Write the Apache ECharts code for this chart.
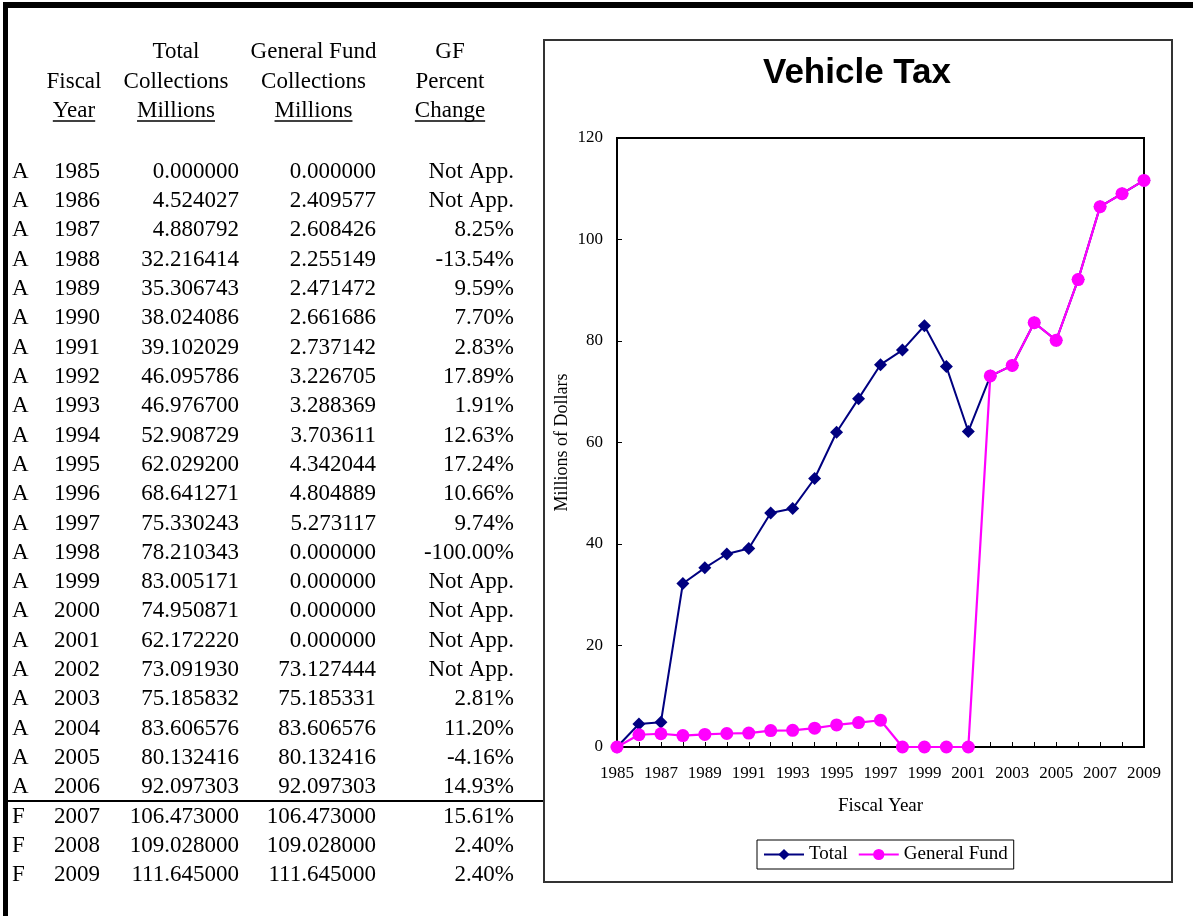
<!DOCTYPE html>
<html>
<head>
<meta charset="utf-8">
<title>Vehicle Tax</title>
<script src="https://cdn.jsdelivr.net/npm/echarts@6/dist/echarts.min.js"></script>
<style>
  html, body { margin: 0; padding: 0; background: #fff; }
  #main { width: 1193px; height: 916px; }
</style>
</head>
<body>
<div id="main"></div>
<script>
// Fiscal years, A = actual, F = forecast
const years = ['1985','1986','1987','1988','1989','1990','1991','1992','1993','1994','1995','1996',
  '1997','1998','1999','2000','2001','2002','2003','2004','2005','2006','2007','2008','2009'];
const sources = ['A','A','A','A','A','A','A','A','A','A','A','A','A','A','A','A','A','A','A','A','A','A','F','F','F'];

// Collections, millions of dollars
const totalCollections = [0.000000, 4.524027, 4.880792, 32.216414, 35.306743, 38.024086, 39.102029,
  46.095786, 46.976700, 52.908729, 62.029200, 68.641271, 75.330243, 78.210343, 83.005171, 74.950871,
  62.172220, 73.091930, 75.185832, 83.606576, 80.132416, 92.097303, 106.473000, 109.028000, 111.645000];
const generalFund = [0.000000, 2.409577, 2.608426, 2.255149, 2.471472, 2.661686, 2.737142,
  3.226705, 3.288369, 3.703611, 4.342044, 4.804889, 5.273117, 0.000000, 0.000000, 0.000000,
  0.000000, 73.127444, 75.185331, 83.606576, 80.132416, 92.097303, 106.473000, 109.028000, 111.645000];
const gfPercentChange = ['Not App.','Not App.','8.25%','-13.54%','9.59%','7.70%','2.83%','17.89%',
  '1.91%','12.63%','17.24%','10.66%','9.74%','-100.00%','Not App.','Not App.','Not App.','Not App.',
  '2.81%','11.20%','-4.16%','14.93%','15.61%','2.40%','2.40%'];

// Value axis range
const yMin = 0, yMax = 120, yStep = 20;

// Column headings of the table (three stacked lines each, last one underlined)
const headings = [
  ['', 'Fiscal', 'Year'],
  ['Total', 'Collections', 'Millions'],
  ['General Fund', 'Collections', 'Millions'],
  ['GF', 'Percent', 'Change']
];

const serif = '"Liberation Serif", "Times New Roman", serif';
const sans = '"Liberation Sans", Arial, sans-serif';

const measureCtx = document.createElement('canvas').getContext('2d');
function textWidth(str, font) {
  measureCtx.font = font;
  return measureCtx.measureText(str).width;
}

// ---- table layout ----
const tableFont = '23px ' + serif;
const headCenters = [74, 176, 313.5, 450];
const headLineY = [52, 82, 111];
const underlineY = 121;
const rowY0 = 171.5, rowStep = 29.33;

const graphics = [];

function txt(str, x, y, align, font) {
  graphics.push({
    type: 'text', silent: true, z: 10,
    style: {
      text: str, x: x, y: y, font: font || tableFont, fill: '#000',
      align: align, textAlign: align, verticalAlign: 'middle', textVerticalAlign: 'middle'
    }
  });
}

headings.forEach((lines, c) => {
  lines.forEach((s, r) => {
    if (!s) return;
    txt(s, headCenters[c], headLineY[r], 'center');
    if (r === lines.length - 1) {
      const w = textWidth(s, tableFont);
      graphics.push({
        type: 'line', silent: true, z: 10,
        shape: { x1: headCenters[c] - w / 2, y1: underlineY, x2: headCenters[c] + w / 2, y2: underlineY },
        style: { stroke: '#000', lineWidth: 1.5 }
      });
    }
  });
});

years.forEach((yr, i) => {
  const y = rowY0 + rowStep * i;
  txt(sources[i], 12, y, 'left');
  txt(yr, 100, y, 'right');
  txt(totalCollections[i].toFixed(6), 239, y, 'right');
  txt(generalFund[i].toFixed(6), 376, y, 'right');
  txt(gfPercentChange[i], 514, y, 'right');
});

// rule between actual and forecast years
const lastActual = sources.lastIndexOf('A');
const ruleY = rowY0 + rowStep * lastActual + 13.5;
graphics.push({
  type: 'line', silent: true, z: 10,
  shape: { x1: 8, y1: ruleY, x2: 543, y2: ruleY },
  style: { stroke: '#000', lineWidth: 2 }
});

// page frame: heavy top and left rules
graphics.push({ type: 'rect', silent: true, z: 10, shape: { x: 3, y: 2, width: 1190, height: 6 }, style: { fill: '#000' } });
graphics.push({ type: 'rect', silent: true, z: 10, shape: { x: 3, y: 2, width: 5, height: 914 }, style: { fill: '#000' } });

// chart area frame and title
graphics.push({
  type: 'rect', silent: true, z: 0,
  shape: { x: 544, y: 40, width: 628, height: 842 },
  style: { fill: 'none', stroke: '#333', lineWidth: 2 }
});
graphics.push({
  type: 'text', silent: true, z: 10,
  style: {
    text: 'Vehicle Tax', x: 857, y: 73, font: 'bold 35px ' + sans, fill: '#000',
    align: 'center', textAlign: 'center', verticalAlign: 'middle', textVerticalAlign: 'middle'
  }
});

const chart = echarts.init(document.getElementById('main'), null, { renderer: 'canvas' });

const axisFont = { fontFamily: serif, color: '#000' };

chart.setOption({
  animation: false,
  backgroundColor: '#fff',
  graphic: graphics,
  grid: {
    left: 617, top: 138, width: 527, height: 609,
    show: true, borderColor: '#000', borderWidth: 2, containLabel: false
  },
  legend: {
    data: ['Total', 'General Fund'],
    left: 757, top: 840,
    orient: 'horizontal',
    borderColor: '#000', borderWidth: 1,
    padding: [5, 6, 5, 6],
    itemWidth: 40, itemHeight: 14, itemGap: 10,
    textStyle: Object.assign({ fontSize: 19 }, axisFont)
  },
  xAxis: {
    type: 'category',
    data: years,
    boundaryGap: false,
    name: 'Fiscal Year',
    nameLocation: 'middle',
    nameGap: 50,
    nameTextStyle: Object.assign({ fontSize: 19 }, axisFont),
    axisLine: { show: true, lineStyle: { color: '#000', width: 2 } },
    axisTick: { show: true, inside: true, length: 5, interval: 0, lineStyle: { color: '#000', width: 1 } },
    axisLabel: Object.assign({ interval: 1, fontSize: 17, margin: 18 }, axisFont),
    splitLine: { show: false }
  },
  yAxis: {
    type: 'value',
    min: yMin, max: yMax, interval: yStep,
    name: 'Millions of Dollars',
    nameLocation: 'middle',
    nameRotate: 90,
    nameGap: 46,
    nameTextStyle: Object.assign({ fontSize: 18 }, axisFont),
    axisLine: { show: true, lineStyle: { color: '#000', width: 2 } },
    axisTick: { show: true, inside: true, length: 5, lineStyle: { color: '#000', width: 1 } },
    axisLabel: Object.assign({ fontSize: 17, margin: 14 }, axisFont),
    splitLine: { show: false }
  },
  series: [
    {
      name: 'Total',
      type: 'line',
      data: totalCollections,
      symbol: 'diamond',
      symbolSize: 13,
      lineStyle: { color: '#000080', width: 2 },
      itemStyle: { color: '#000080' },
      z: 2
    },
    {
      name: 'General Fund',
      type: 'line',
      data: generalFund,
      symbol: 'circle',
      symbolSize: 13,
      lineStyle: { color: '#FF00FF', width: 2.2 },
      itemStyle: { color: '#FF00FF' },
      z: 3
    }
  ]
});
</script>
</body>
</html>
